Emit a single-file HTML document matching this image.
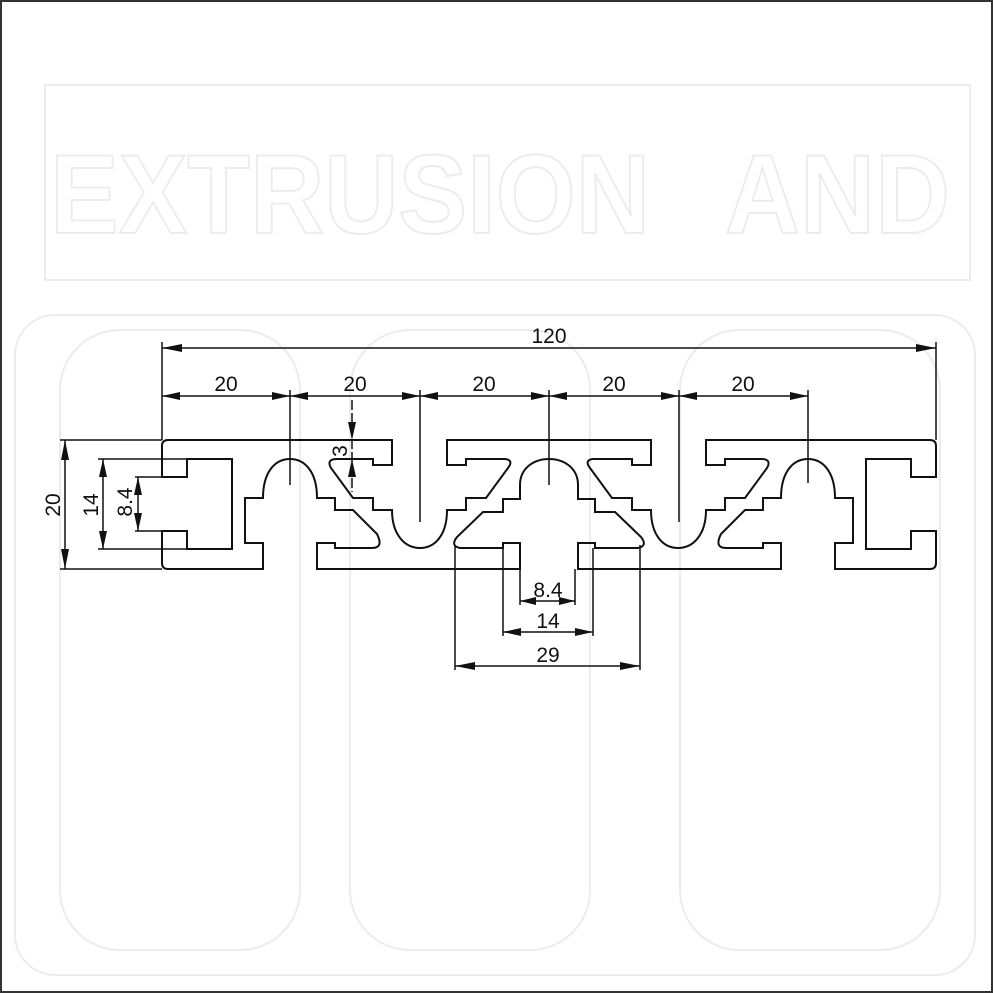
<!DOCTYPE html>
<html><head><meta charset="utf-8"><style>
html,body{margin:0;padding:0;background:#fff}
svg{display:block}
text{font-family:"Liberation Sans",sans-serif;font-size:21px;fill:#111}
</style></head><body>
<svg width="993" height="993" viewBox="0 0 993 993" xmlns="http://www.w3.org/2000/svg">
<rect x="0" y="0" width="993" height="993" fill="#fff"/>
<rect x="1" y="1" width="991" height="991" fill="none" stroke="#333" stroke-width="2"/>
<!-- faint watermark -->
<g fill="none" stroke="#ececec" stroke-width="2">
<path d="M45,85 H970 V280 H45 Z" rx="20"/>
<rect x="15" y="315" width="960" height="660" rx="40"/>
<rect x="60" y="330" width="240" height="620" rx="60"/>
<rect x="350" y="330" width="240" height="620" rx="60"/>
<rect x="680" y="330" width="260" height="620" rx="60"/>
</g>
<text x="50" y="233" style="font-size:112px;font-weight:bold;fill:none;stroke:#ececec;stroke-width:2" textLength="600" lengthAdjust="spacingAndGlyphs">EXTRUSION</text>
<text x="725" y="233" style="font-size:112px;font-weight:bold;fill:none;stroke:#ececec;stroke-width:2" textLength="225" lengthAdjust="spacingAndGlyphs">AND</text>

<g fill="none" stroke="#111" stroke-width="2" stroke-linejoin="miter">
<path id="half" d="M549,440 H447 V465 H466 V459 H505 Q514,460 508,468 L486,498 H466 V510 H447 C447,535 435,548 420,548 C405,548 392,535 392,510 H373 V498 H353 L331,468 Q326,459 337,459 H373 V465 H392 V440 H168 Q162,440 162,446 V477 H187 V459 H232 V549 H187 V531 H162 V563 Q162,569 168,569 H263 V543 H245 V498 H263 C263,472 275,459 290,459 C305,459 317,472 317,498 H335 V510 H353 L377,534 Q384,548 372,548 H335 V543 H317 V569 H520 V543 H503 V548 H460 Q450,546 457,537 L483,512 H503 V499 H520 V485 C520,468 534,459 549,459"/>
<use href="#half" transform="translate(1098,0) scale(-1,1)"/>
</g>

<!-- dimension / centre lines -->
<g stroke="#111" stroke-width="1.5" fill="none">
<line x1="162" y1="342" x2="162" y2="440"/>
<line x1="936" y1="342" x2="936" y2="440"/>
<line x1="162" y1="348" x2="936" y2="348"/>
<line x1="162" y1="396" x2="808" y2="396"/>
<line x1="290" y1="390" x2="290" y2="485"/>
<line x1="420" y1="390" x2="420" y2="522"/>
<line x1="549" y1="390" x2="549" y2="485"/>
<line x1="679" y1="390" x2="679" y2="522"/>
<line x1="808" y1="390" x2="808" y2="483"/>
<line x1="60" y1="440" x2="162" y2="440"/>
<line x1="60" y1="569" x2="162" y2="569"/>
<line x1="65" y1="440" x2="65" y2="569"/>
<line x1="98" y1="459" x2="187" y2="459"/>
<line x1="98" y1="549" x2="232" y2="549"/>
<line x1="103" y1="459" x2="103" y2="549"/>
<line x1="135" y1="477" x2="162" y2="477"/>
<line x1="135" y1="531" x2="162" y2="531"/>
<line x1="138" y1="477" x2="138" y2="531"/>
<line x1="352" y1="400" x2="352" y2="492" stroke-dasharray="10,3"/>
<line x1="455" y1="545" x2="455" y2="670"/>
<line x1="640" y1="545" x2="640" y2="670"/>
<line x1="503" y1="548" x2="503" y2="636"/>
<line x1="593" y1="548" x2="593" y2="636"/>
<line x1="520" y1="569" x2="520" y2="605"/>
<line x1="575" y1="569" x2="575" y2="605"/>
<line x1="520" y1="601" x2="575" y2="601"/>
<line x1="503" y1="632" x2="593" y2="632"/>
<line x1="455" y1="666" x2="640" y2="666"/>
</g>
<g fill="#111">
<!-- 120 arrows -->
<polygon points="162,348 182,344 182,352"/><polygon points="936,348 916,344 916,352"/>
<!-- 20 arrows -->
<polygon points="162,396 180,392 180,400"/><polygon points="290,396 272,392 272,400"/>
<polygon points="290,396 308,392 308,400"/><polygon points="420,396 402,392 402,400"/>
<polygon points="420,396 438,392 438,400"/><polygon points="549,396 531,392 531,400"/>
<polygon points="549,396 567,392 567,400"/><polygon points="679,396 661,392 661,400"/>
<polygon points="679,396 697,392 697,400"/><polygon points="808,396 790,392 790,400"/>
<!-- left verticals -->
<polygon points="65,440 61,460 69,460"/><polygon points="65,569 61,549 69,549"/>
<polygon points="103,459 99,477 107,477"/><polygon points="103,549 99,531 107,531"/>
<polygon points="138,477 134,495 142,495"/><polygon points="138,531 134,513 142,513"/>
<!-- 3 -->
<polygon points="352,440 348,422 356,422"/><polygon points="352,459 348,477 356,477"/>
<!-- bottom -->
<polygon points="520,601 536,597 536,605"/><polygon points="575,601 559,597 559,605"/>
<polygon points="503,632 521,628 521,636"/><polygon points="593,632 575,628 575,636"/>
<polygon points="455,666 475,662 475,670"/><polygon points="640,666 620,662 620,670"/>
</g>
<g text-anchor="middle">
<text x="549" y="343">120</text>
<text x="226" y="391">20</text>
<text x="355" y="391">20</text>
<text x="484" y="391">20</text>
<text x="614" y="391">20</text>
<text x="743" y="391">20</text>
<text x="548" y="597">8.4</text>
<text x="548" y="628">14</text>
<text x="548" y="662">29</text>
<text transform="translate(60,505) rotate(-90)">20</text>
<text transform="translate(98,505) rotate(-90)">14</text>
<text transform="translate(132,502) rotate(-90)">8.4</text>
<text transform="translate(347,451) rotate(-90)">3</text>
</g>
</svg>
</body></html>
